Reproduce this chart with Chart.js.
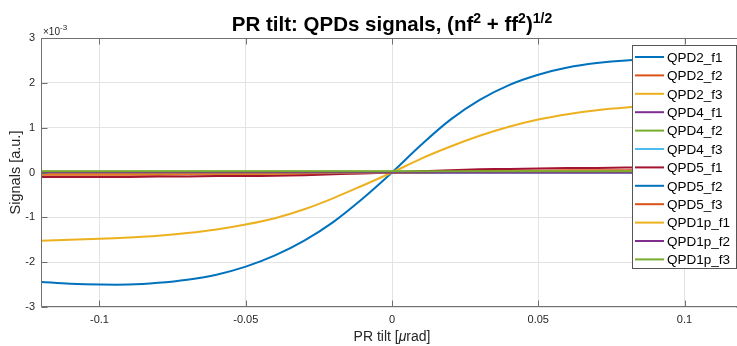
<!DOCTYPE html>
<html>
<head>
<meta charset="utf-8">
<script src="https://cdn.jsdelivr.net/npm/chart.js@4.4.1/dist/chart.umd.min.js"></script>
<style>
  html, body { margin: 0; padding: 0; overflow: hidden; background: #fff; }
  canvas { display: block; }
</style>
</head>
<body>
<canvas id="qpd_tilt" width="746" height="346"></canvas>
<script>
// PR tilt [urad]
const tilt = [-0.12, -0.11, -0.10, -0.09, -0.08, -0.07, -0.06, -0.05, -0.04, -0.03, -0.02, -0.01, 0,
              0.01, 0.02, 0.03, 0.04, 0.05, 0.06, 0.07, 0.08, 0.09, 0.10, 0.11, 0.12];

// signals, in units of 1e-3
const qpd2_f1  = [-2.44, -2.48, -2.50, -2.50, -2.46, -2.39, -2.28, -2.10, -1.85, -1.52, -1.10, -0.58, 0,
                  0.62, 1.18, 1.62, 1.95, 2.18, 2.34, 2.44, 2.50, 2.52, 2.51, 2.49, 2.45];
const qpd2_f2  = [-0.05, -0.05, -0.05, -0.05, -0.05, -0.04, -0.04, -0.04, -0.03, -0.03, -0.02, -0.01, 0,
                  0.01, 0.02, 0.03, 0.04, 0.04, 0.05, 0.05, 0.05, 0.06, 0.06, 0.06, 0.06];
const qpd2_f3  = [-1.52, -1.50, -1.48, -1.45, -1.41, -1.35, -1.27, -1.16, -1.02, -0.82, -0.57, -0.29, 0,
                  0.31, 0.58, 0.82, 1.02, 1.18, 1.30, 1.39, 1.45, 1.49, 1.52, 1.53, 1.54];
const qpd4_f1  = [0.00, 0.00, 0.00, 0.00, 0.00, 0.00, 0.00, 0.00, 0.00, 0.00, 0.00, 0.00, 0,
                  0.00, 0.00, 0.00, 0.00, 0.00, 0.00, 0.00, 0.00, 0.00, 0.00, 0.00, 0.00];
const qpd4_f2  = [0.02, 0.02, 0.02, 0.02, 0.02, 0.02, 0.02, 0.02, 0.02, 0.02, 0.02, 0.02, 0.02,
                  0.02, 0.02, 0.02, 0.02, 0.02, 0.02, 0.02, 0.02, 0.02, 0.02, 0.02, 0.02];
const qpd4_f3  = [0.00, 0.00, 0.00, 0.00, 0.00, 0.00, 0.00, 0.00, 0.00, 0.00, 0.00, 0.00, 0,
                  0.00, 0.00, 0.00, 0.00, 0.00, 0.00, 0.00, 0.00, 0.00, 0.00, 0.00, 0.00];
const qpd5_f1  = [-0.10, -0.10, -0.10, -0.10, -0.09, -0.09, -0.08, -0.08, -0.07, -0.06, -0.04, -0.02, 0,
                  0.03, 0.05, 0.07, 0.08, 0.09, 0.10, 0.10, 0.11, 0.11, 0.11, 0.11, 0.11];
const qpd5_f2  = [-0.01, -0.01, -0.01, -0.01, -0.01, -0.01, -0.01, -0.01, -0.01, -0.01, -0.01, 0.00, 0,
                  0.00, 0.01, 0.01, 0.01, 0.01, 0.01, 0.01, 0.01, 0.01, 0.01, 0.01, 0.01];
const qpd5_f3  = [-0.03, -0.03, -0.03, -0.03, -0.03, -0.03, -0.03, -0.02, -0.02, -0.02, -0.01, -0.01, 0,
                  0.01, 0.01, 0.02, 0.02, 0.02, 0.03, 0.03, 0.03, 0.03, 0.03, 0.03, 0.03];
const qpd1p_f1 = [-0.02, -0.02, -0.02, -0.02, -0.02, -0.02, -0.02, -0.02, -0.02, -0.01, -0.01, 0.00, 0,
                  0.00, 0.01, 0.01, 0.02, 0.02, 0.02, 0.02, 0.02, 0.02, 0.02, 0.02, 0.02];
const qpd1p_f2 = [0.00, 0.00, 0.00, 0.00, 0.00, 0.00, 0.00, 0.00, 0.00, 0.00, 0.00, 0.00, 0,
                  0.00, 0.00, 0.00, 0.00, 0.00, 0.00, 0.00, 0.00, 0.00, 0.00, 0.00, 0.00];
const qpd1p_f3 = [0.03, 0.03, 0.03, 0.03, 0.03, 0.03, 0.03, 0.03, 0.03, 0.03, 0.03, 0.03, 0.03,
                  0.03, 0.03, 0.03, 0.03, 0.03, 0.03, 0.03, 0.03, 0.03, 0.03, 0.03, 0.03];

const names = ["QPD2_f1", "QPD2_f2", "QPD2_f3", "QPD4_f1", "QPD4_f2", "QPD4_f3",
               "QPD5_f1", "QPD5_f2", "QPD5_f3", "QPD1p_f1", "QPD1p_f2", "QPD1p_f3"];
const series = [qpd2_f1, qpd2_f2, qpd2_f3, qpd4_f1, qpd4_f2, qpd4_f3,
                qpd5_f1, qpd5_f2, qpd5_f3, qpd1p_f1, qpd1p_f2, qpd1p_f3];
const matlab_colors = ["#0072BD", "#D95319", "#EDB120", "#7E2F8E", "#77AC30", "#4DBEEE", "#A2142F"];

const xTicks = [-0.1, -0.05, 0, 0.05, 0.1];
const yTicks = [-3, -2, -1, 0, 1, 2, 3];

const FONT = "'Liberation Sans', Arial, Helvetica, sans-serif";
const AXIS_COL = "#262626";

const datasets = series.map((vals, i) => ({
  label: names[i],
  data: tilt.map((x, j) => ({ x: x, y: vals[j] })),
  borderColor: matlab_colors[i % matlab_colors.length],
  backgroundColor: matlab_colors[i % matlab_colors.length],
  borderWidth: 2,
  pointRadius: 0,
  tension: 0.35,
  order: series.length - i, // matlab draws the last one on top
}));

// frame + inward ticks like matlab's "box on"
const framePlugin = {
  id: "frame",
  afterDatasetsDraw(chart) {
    const { ctx, chartArea: a, scales } = chart;
    const L = Math.round(a.left) + 0.5, R = Math.round(a.right) - 0.5;
    const T = Math.round(a.top) + 0.5, B = Math.round(a.bottom) - 0.5;
    ctx.save();
    ctx.strokeStyle = "#707070";
    ctx.lineWidth = 1;
    ctx.beginPath();
    ctx.rect(L, T, R - L, B - T);
    xTicks.forEach((v) => {
      const px = Math.round(scales.x.getPixelForValue(v)) + 0.5;
      ctx.moveTo(px, B); ctx.lineTo(px, B - 6);
      ctx.moveTo(px, T); ctx.lineTo(px, T + 6);
    });
    yTicks.forEach((v) => {
      const py = Math.round(scales.y.getPixelForValue(v)) + 0.5;
      ctx.moveTo(L, py); ctx.lineTo(L + 6, py);
      ctx.moveTo(R, py); ctx.lineTo(R - 6, py);
    });
    ctx.stroke();
    ctx.restore();
  },
};

// draw runs of text where some parts are superscript / italic
function drawRich(ctx, parts, cx, baseline, align) {
  let total = 0;
  parts.forEach((p) => { ctx.font = p.font; p.w = ctx.measureText(p.t).width; total += p.w; });
  let x = align === "left" ? cx : cx - total / 2;
  parts.forEach((p) => {
    ctx.font = p.font;
    ctx.fillText(p.t, x, baseline - (p.rise || 0));
    x += p.w;
  });
}

const textPlugin = {
  id: "texts",
  afterDraw(chart) {
    const { ctx, chartArea: a } = chart;
    ctx.save();
    ctx.textAlign = "left";
    ctx.textBaseline = "alphabetic";

    // title
    ctx.fillStyle = "#000";
    const big = "bold 20.5px " + FONT, sup = "bold 14px " + FONT;
    drawRich(ctx, [
      { t: "PR tilt: QPDs signals, (nf", font: big },
      { t: "2", font: sup, rise: 8 },
      { t: " + ff", font: big },
      { t: "2", font: sup, rise: 8 },
      { t: ")", font: big },
      { t: "1/2", font: sup, rise: 8 },
    ], (a.left + a.right) / 2, 31);

    // exponent above y axis
    ctx.fillStyle = AXIS_COL;
    drawRich(ctx, [
      { t: "\u00d710", font: "10px " + FONT },
      { t: "-3", font: "8px " + FONT, rise: 5 },
    ], a.left + 2, 35, "left");

    // x label
    const lab = "14px " + FONT;
    drawRich(ctx, [
      { t: "PR tilt [", font: lab },
      { t: "\u03bc", font: "italic 14px " + FONT },
      { t: "rad]", font: lab },
    ], (a.left + a.right) / 2, 341);

    // y label
    ctx.translate(20, (a.top + a.bottom) / 2);
    ctx.rotate(-Math.PI / 2);
    ctx.font = "14.5px " + FONT;
    ctx.textAlign = "center";
    ctx.fillText("Signals [a.u.]", 0, 0);
    ctx.restore();

    // legend box
    ctx.save();
    const bx = 632, by = 45, bw = 104, bh = 223;
    ctx.fillStyle = "#fff";
    ctx.fillRect(bx, by, bw, bh);
    ctx.strokeStyle = "#555";
    ctx.lineWidth = 1;
    ctx.strokeRect(bx + 0.5, by + 0.5, bw, bh);
    ctx.font = "13.5px " + FONT;
    ctx.textBaseline = "middle";
    ctx.textAlign = "left";
    chart.data.datasets.forEach((ds, i) => {
      const y = 57 + i * 18.4;
      ctx.strokeStyle = ds.borderColor;
      ctx.lineWidth = 2;
      ctx.beginPath();
      ctx.moveTo(635, y); ctx.lineTo(664, y);
      ctx.stroke();
      ctx.fillStyle = "#000";
      ctx.fillText(ds.label, 667, y + 1);
    });
    ctx.restore();
  },
};

new Chart(document.getElementById("qpd_tilt"), {
  type: "line",
  data: { datasets: datasets },
  options: {
    responsive: false,
    animation: false,
    layout: { padding: { top: 38, right: 3, left: 0, bottom: 0 } },
    plugins: { legend: { display: false }, tooltip: { enabled: false }, title: { display: false } },
    scales: {
      x: {
        type: "linear",
        min: -0.12,
        max: 0.12,
        afterBuildTicks: (scale) => { scale.ticks = xTicks.map((v) => ({ value: v })); },
        afterFit: (scale) => { scale.height = 39; },
        ticks: {
          padding: 6,
          autoSkip: false,
          maxRotation: 0,
          color: AXIS_COL,
          font: { family: FONT, size: 11 },
          callback: (v) => String(v),
        },
        grid: { color: "#e3e3e3", drawTicks: false },
        border: { display: false },
      },
      y: {
        min: -3,
        max: 3,
        afterBuildTicks: (scale) => { scale.ticks = yTicks.map((v) => ({ value: v })); },
        afterFit: (scale) => { scale.width = 41; },
        ticks: {
          padding: 6,
          color: AXIS_COL,
          font: { family: FONT, size: 11 },
          callback: (v) => String(v),
        },
        grid: { color: "#e3e3e3", drawTicks: false },
        border: { display: false },
      },
    },
  },
  plugins: [framePlugin, textPlugin],
});
</script>
</body>
</html>
